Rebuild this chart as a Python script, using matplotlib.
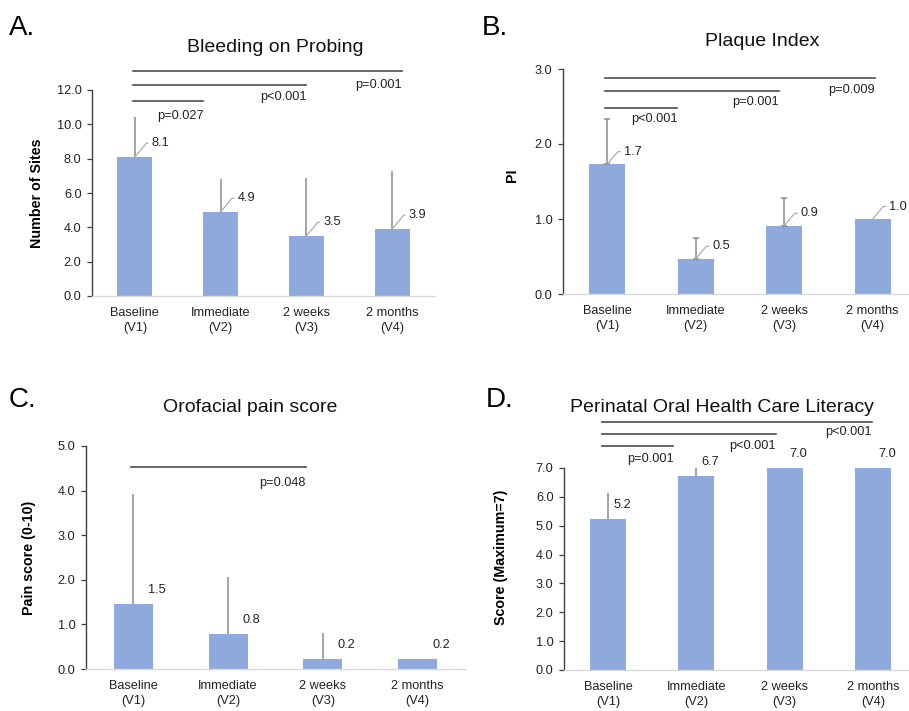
import matplotlib
matplotlib.use("Agg")
import matplotlib.pyplot as plt
from matplotlib.ticker import FormatStrFormatter, MultipleLocator

plt.rcParams['font.family'] = ['Liberation Sans', 'DejaVu Sans']

categories = ["Baseline\n(V1)", "Immediate\n(V2)", "2 weeks\n(V3)", "2 months\n(V4)"]

bop_mean = [8.1, 4.9, 3.5, 3.9]
bop_sd = [2.3, 1.9, 3.4, 3.4]
bop_labels = ["8.1", "4.9", "3.5", "3.9"]

pi_mean = [1.73, 0.47, 0.91, 1.0]
pi_sd = [0.6, 0.28, 0.37, 0.0]
pi_labels = ["1.7", "0.5", "0.9", "1.0"]

pain_mean = [1.46, 0.79, 0.22, 0.22]
pain_sd = [2.46, 1.27, 0.59, 0.0]
pain_labels = ["1.5", "0.8", "0.2", "0.2"]

lit_mean = [5.22, 6.72, 7.0, 7.0]
lit_sd = [0.9, 0.3, 0.0, 0.0]
lit_labels = ["5.2", "6.7", "7.0", "7.0"]

# comparisons: (end category position, line y, p text, text y)
bop_p = [(0.80, 11.36, "p=0.027", 10.5), (2.0, 12.29, "p<0.001", 11.6), (3.11, 13.1, "p=0.001", 12.3)]
pi_p = [(0.79, 2.48, "p<0.001", 2.33), (1.94, 2.71, "p=0.001", 2.56), (3.02, 2.88, "p=0.009", 2.72)]
pain_p = [(1.82, 4.53, "p=0.048", 4.17)]
lit_p = [(0.74, 7.76, "p=0.001", 7.31), (1.9, 8.18, "p<0.001", 7.76), (2.99, 8.59, "p<0.001", 8.25)]

BAR = '#8EA9DB'
ERR = '#8c8c8c'
SIG = '#4d4d4d'
FS = 9.2

W, H = 909, 711
fig = plt.figure(figsize=(W / 100, H / 100), dpi=100)


def px_axes(left, right, top, bottom):
    return fig.add_axes([left / W, 1 - bottom / H, (right - left) / W, (bottom - top) / H])


def setup(ax, ymax, step, ylabel, lab_x, lab_y=0.5):
    ax.set_xlim(-0.5, 3.5)
    ax.set_ylim(0, ymax)
    ax.yaxis.set_major_locator(MultipleLocator(step))
    ax.yaxis.set_major_formatter(FormatStrFormatter('%.1f'))
    ax.set_xticks(range(len(categories)))
    ax.set_xticklabels(categories, fontsize=FS, linespacing=1.3, color='#222222')
    ax.tick_params(axis='x', length=0, pad=8)
    ax.tick_params(axis='y', direction='out', length=3.5, width=0.9, color='#404040',
                   labelsize=FS, pad=4, labelcolor='#222222')
    for s in ['top', 'right']:
        ax.spines[s].set_visible(False)
    ax.spines['left'].set_color('#404040')
    ax.spines['left'].set_linewidth(1.0)
    ax.spines['bottom'].set_color('#d9d9d9')
    ax.spines['bottom'].set_linewidth(1.0)
    ax.set_ylabel(ylabel, fontsize=10.3, fontweight='bold')
    ax.yaxis.set_label_coords(lab_x, lab_y)


def bars(ax, mean, sd, capsize):
    x = list(range(len(mean)))
    ax.bar(x, mean, width=0.41, color=BAR, zorder=2)
    has = [i for i in x if sd[i] > 0]
    ax.errorbar([x[i] for i in has], [mean[i] for i in has],
                yerr=[[0] * len(has), [sd[i] for i in has]], fmt='none',
                ecolor=ERR, elinewidth=1.1, capsize=capsize, capthick=1.1, zorder=3)


def leader_labels(ax, mean, labels, dx, dy):
    for i, (v, t) in enumerate(zip(mean, labels)):
        ax.annotate(t, xy=(i, v), xytext=(dx, dy), textcoords='offset points',
                    fontsize=FS, ha='left', va='center', color='#222222',
                    arrowprops=dict(arrowstyle='-', color='#a6a6a6', lw=0.8,
                                    shrinkA=0.5, shrinkB=0, relpos=(0, 0.5),
                                    connectionstyle="angle,angleA=180,angleB=50,rad=0"))


def plain_labels(ax, mean, labels, dx, dy):
    for i, (v, t) in enumerate(zip(mean, labels)):
        ax.annotate(t, xy=(i, v), xytext=(dx, dy), textcoords='offset points',
                    fontsize=FS, ha='center', va='center', color='#222222',
                    annotation_clip=False)


def sig(ax, comps, start):
    for end, yl, txt, yt in comps:
        ax.plot([start, end], [yl, yl], color=SIG, lw=1.2, clip_on=False, zorder=4)
        ax.text(end, yt, txt, fontsize=FS, ha='right', va='center', color='#222222')


# Panel A
axA = px_axes(92, 435, 90, 296)
setup(axA, 12, 2, "Number of Sites", -0.14)
bars(axA, bop_mean, bop_sd, 0)
leader_labels(axA, bop_mean, bop_labels, 12, 10)
sig(axA, bop_p, -0.02)

# Panel B
axB = px_axes(563, 917, 69, 294)
setup(axB, 3, 1, "PI", -0.124, 0.53)
bars(axB, pi_mean, pi_sd, 2)
leader_labels(axB, pi_mean, pi_labels, 12, 9)
sig(axB, pi_p, -0.02)

# Panel C
axC = px_axes(86, 465, 446, 669)
setup(axC, 5, 1, "Pain score (0-10)", -0.132)
bars(axC, pain_mean, pain_sd, 0)
plain_labels(axC, pain_mean, pain_labels, 17, 10)
sig(axC, pain_p, -0.02)

# Panel D
axD = px_axes(564, 917, 468, 670)
setup(axD, 7, 1, "Score (Maximum=7)", -0.159, 0.56)
bars(axD, lit_mean, lit_sd, 0)
plain_labels(axD, lit_mean, lit_labels, 10, 10)
sig(axD, lit_p, -0.07)

# Titles and panel letters
titles = [("Bleeding on Probing", 275, 47), ("Plaque Index", 762, 41),
          ("Orofacial pain score", 250, 408), ("Perinatal Oral Health Care Literacy", 722, 407)]
for t, x, y in titles:
    fig.text(x / W, 1 - y / H, t, fontsize=14, ha='center', va='center', color='#111111')

letters = [("A.", 9, 28), ("B.", 482, 28), ("C.", 9, 400), ("D.", 486, 400)]
for t, x, y in letters:
    fig.text(x / W, 1 - y / H, t, fontsize=20, ha='left', va='center', color='#000000')

fig.savefig("out.png", dpi=100)
